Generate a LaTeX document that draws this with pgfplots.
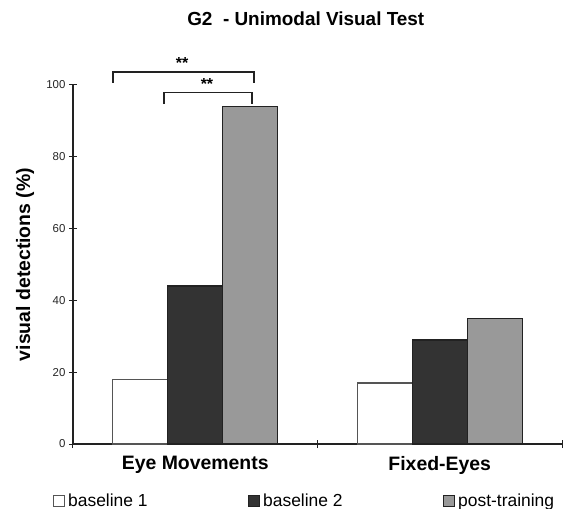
\documentclass[border=0pt]{standalone}
\usepackage{fontspec}
\setmainfont{Liberation Sans}
\usepackage{pgfplots}
\pgfplotsset{compat=1.18}
\definecolor{bdark}{HTML}{333333}
\definecolor{bgray}{HTML}{999999}
\definecolor{edge}{HTML}{222222}
\definecolor{wedge}{HTML}{555555}
\begin{document}
\begin{tikzpicture}
\useasboundingbox (-73bp,-65bp) rectangle (490bp,444bp);
\begin{axis}[
  scale only axis, width=489bp, height=359bp,
  xmin=0, xmax=2, ymin=0, ymax=100,
  axis lines=left,
  axis line style={-, line width=1.2bp, draw=edge},
  clip=false,
  xtick={0,1,2}, xticklabels={},
  ytick={0,20,...,100},
  tick align=center, major tick length=8bp,
  tick style={line width=1bp, draw=edge},
  /pgf/number format/assume math mode=true,
  yticklabel style={font=\fontsize{11.5}{13}\selectfont, text=black!85},
  extra x ticks={0.5,1.5},
  extra x tick labels={Eye Movements,Fixed-Eyes},
  extra x tick style={major tick length=0pt, tick label style={font=\bfseries\fontsize{19.5}{22}\selectfont, yshift=-9bp}},
  ylabel={visual detections (\%)},
  ylabel style={font=\bfseries\fontsize{19.5}{22}\selectfont, at={(axis description cs:-0.098,0.5)}, anchor=center},
  title={G2\ \ - Unimodal Visual Test},
  title style={font=\bfseries\fontsize{19}{22}\selectfont, at={(axis description cs:0.476,1.167)}, anchor=center},
  legend style={draw=none, fill=none, inner sep=0pt, at={(-0.0409,-0.158)}, anchor=west,
    legend columns=3, font=\fontsize{17.5}{19}\selectfont, nodes={inner sep=0pt},
    /tikz/every even column/.append style={column sep=0pt}},
  legend cell align=left,
  legend image code/.code={\draw[#1, line width=1bp] (0bp,-5.5bp) rectangle (11bp,5.5bp);},
]
\addplot[ybar, bar width=0.225, bar shift=0pt, fill=white, draw=wedge, line width=1.3bp]
  coordinates {(0.275,18) (1.275,17)};
\addlegendentry{\makebox[183bp][l]{\hspace{3bp}baseline 1}}
\addplot[ybar, bar width=0.225, bar shift=0pt, fill=bdark, draw=edge, line width=1.3bp]
  coordinates {(0.5,44) (1.5,29)};
\addlegendentry{\makebox[183bp][l]{\hspace{3bp}baseline 2}}
\addplot[ybar, bar width=0.225, bar shift=0pt, fill=bgray, draw=edge, line width=1.3bp]
  coordinates {(0.725,94) (1.725,35)};
\addlegendentry{\hspace{3bp}post-training}
\draw[line width=1.2bp, edge] (axis cs:0.164,100.6) -- (axis cs:0.164,103.6) -- (axis cs:0.740,103.6) -- (axis cs:0.740,100.6);
\draw[line width=1.2bp, edge] (axis cs:0.372,94.7) -- (axis cs:0.372,97.8) -- (axis cs:0.732,97.8) -- (axis cs:0.732,94.7);
\node[font=\bfseries\fontsize{16}{18}\selectfont] at (axis cs:0.446,106.0) {**};
\node[font=\bfseries\fontsize{16}{18}\selectfont] at (axis cs:0.548,100.4) {**};
\end{axis}
\end{tikzpicture}
\end{document}
